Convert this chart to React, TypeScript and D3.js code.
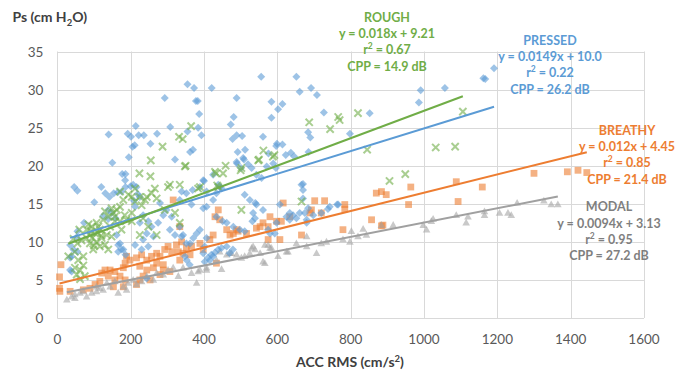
import { useEffect, useRef } from 'react';
import * as d3 from 'd3';

type Pt = [number, number];

// ACC RMS (cm/s2) vs Ps (cm H2O)
const pressed: Pt[] = [
  [140, 24.1], [150, 20.4], [192, 24.2], [201, 23.8], [214, 25.2], [205, 22.5], [211, 22.7], [222, 24.0],
  [236, 24.0], [195, 21.1], [177, 18.9], [186, 18.9], [254, 22.9], [272, 24.2], [293, 28.9], [308, 25.1],
  [321, 20.8], [355, 30.7], [373, 30.2], [378, 28.5], [383, 28.5], [387, 26.8], [384, 25.0], [393, 24.0],
  [355, 24.5], [362, 21.8], [370, 22.1], [421, 30.2], [473, 25.4], [481, 26.4], [489, 28.9], [478, 23.5],
  [489, 24.0], [504, 23.9], [512, 22.1], [492, 21.8], [509, 20.8], [520, 20.2], [490, 20.3], [501, 19.7],
  [400, 18.0], [556, 31.7], [584, 28.4], [584, 26.3], [602, 27.4], [614, 28.1], [561, 23.8], [576, 21.6],
  [599, 22.9], [597, 22.6], [614, 22.8], [596, 19.7], [589, 20.3], [623, 21.4], [637, 21.7], [652, 31.7],
  [661, 29.7], [692, 30.2], [708, 29.3], [727, 27.0], [684, 24.4], [690, 23.7], [685, 21.8], [670, 17.6],
  [1191, 32.8], [1162, 31.5], [1167, 31.4], [991, 29.9], [1057, 30.2], [986, 28.3], [852, 26.9], [798, 24.2],
  [646, 21.2],
  [101, 15.2], [46, 17.2], [55, 16.7], [120, 17.2], [131, 16.4], [142, 15.9], [154, 16.4], [165, 16.5],
  [176, 16.6], [139, 14.2], [148, 13.8], [125, 13.4], [139, 13.0], [159, 13.1], [73, 12.5], [55, 11.4],
  [53, 10.6], [44, 9.0], [35, 9.6], [39, 8.1], [55, 8.7], [35, 6.3], [162, 10.9], [171, 9.8], [180, 9.0],
  [166, 8.7], [186, 8.3], [185, 18.1], [200, 17.3], [186, 17.2], [207, 17.5], [216, 17.2], [219, 16.3],
  [225, 15.9], [209, 15.4], [212, 14.6], [234, 13.5], [248, 12.7], [257, 12.0], [225, 12.5], [244, 11.1],
  [262, 10.7], [234, 10.3], [248, 9.4], [230, 9.0], [280, 15.1], [298, 14.2], [312, 13.3], [289, 13.5],
  [275, 12.5], [307, 11.6], [321, 10.9], [339, 10.7], [334, 12.0], [352, 9.8], [352, 16.4], [369, 16.8],
  [389, 17.2], [407, 16.6], [380, 11.1], [389, 11.6], [407, 10.5], [402, 9.4], [398, 8.5], [416, 7.6],
  [425, 8.1], [434, 13.3], [451, 12.7], [462, 12.5], [434, 16.4], [443, 17.2], [425, 15.5], [480, 12.0],
  [498, 11.6], [511, 11.4], [540, 15.1], [534, 13.8], [598, 12.5], [580, 11.1], [625, 13.3], [634, 12.9],
  [666, 17.5], [670, 16.8], [661, 13.8], [680, 12.5], [766, 14.9], [244, 5.2], [353, 7.6], [348, 8.1],
  [361, 7.0], [402, 7.4], [411, 7.9], [420, 8.3], [430, 8.6], [439, 9.0], [448, 9.2], [462, 9.4], [470, 8.5],
  [479, 9.0], [39, 6.1], [35, 7.9], [166, 9.6], [175, 9.0], [212, 9.6], [343, 10.9], [371, 10.5], [362, 9.8],
  [398, 18.1], [425, 18.8], [439, 17.5], [448, 17.0], [489, 20.5], [507, 21.0], [530, 19.7], [543, 18.8],
  [557, 18.4], [571, 19.9], [511, 16.2], [525, 15.5], [543, 14.9], [561, 14.2], [539, 13.1], [532, 12.7],
  [607, 14.9], [634, 13.8], [643, 13.5], [652, 13.1], [670, 15.7], [684, 14.4], [575, 11.6], [593, 11.1],
  [334, 15.5], [339, 16.6], [366, 14.9], [398, 14.4], [407, 14.6], [675, 13.8], [680, 12.9], [698, 13.5],
  [720, 13.8], [738, 14.3], [763, 14.9], [743, 14.6],
];

const rough: Pt[] = [
  [224, 19.0], [254, 18.6], [255, 20.7], [287, 22.5], [332, 23.8], [342, 23.5], [365, 25.2], [350, 20.0],
  [433, 19.0], [459, 20.0], [500, 19.4], [550, 20.8], [562, 22.0], [592, 21.4], [687, 25.7], [744, 24.8],
  [766, 26.4], [770, 26.0], [820, 26.9], [845, 22.1], [1106, 27.1], [1032, 22.4], [1085, 22.5], [906, 18.0],
  [949, 18.9], [666, 15.3], [266, 17.0], [302, 17.2], [334, 17.5], [203, 15.9], [225, 15.9], [239, 15.5],
  [212, 15.3], [230, 14.8], [184, 13.5], [203, 12.7], [130, 14.0], [148, 14.4], [157, 13.3], [171, 12.7],
  [60, 11.6], [44, 10.4], [55, 9.8], [66, 10.2], [80, 10.5], [30, 8.1], [48, 8.7], [57, 7.6], [71, 8.1],
  [48, 6.6], [62, 6.3], [71, 6.9], [53, 5.7], [62, 5.1], [75, 5.5], [80, 11.6], [94, 12.0], [107, 12.5],
  [89, 10.9], [103, 11.1], [116, 11.6], [89, 9.8], [107, 10.0], [121, 10.5], [135, 10.9], [116, 9.4],
  [98, 9.0], [125, 12.9], [139, 13.3], [153, 13.8], [162, 14.2], [171, 14.6], [144, 12.0], [157, 12.7],
  [148, 10.7], [130, 9.6], [139, 9.0], [175, 11.6], [189, 12.9], [203, 13.8], [180, 15.5], [194, 16.2],
  [171, 16.6], [212, 17.0], [244, 15.9], [257, 16.4], [271, 15.7], [234, 13.1], [248, 12.0], [225, 10.9],
  [293, 14.2], [321, 13.8], [334, 12.5], [271, 10.9], [307, 17.5], [389, 17.2], [439, 17.2], [502, 14.2],
  [348, 19.9], [384, 17.0], [436, 17.4], [430, 19.2], [452, 19.0], [502, 19.7], [548, 20.7], [588, 21.2],
  [95, 10.5], [110, 11.2], [100, 9.5], [120, 10.8], [85, 12.3], [112, 12.0], [92, 11.4],
];

const breathy: Pt[] = [
  [10, 7.0], [6, 5.4], [6, 3.9], [7, 3.5], [35, 3.5], [71, 3.7], [89, 3.9], [103, 4.4], [116, 4.8],
  [121, 5.9], [130, 6.3], [144, 6.3], [157, 6.1], [139, 5.5], [157, 5.0], [171, 5.5], [185, 5.0], [180, 4.1],
  [153, 4.1], [185, 7.2], [189, 8.1], [198, 7.6], [180, 6.6], [216, 7.9], [230, 8.3], [244, 7.6], [257, 8.1],
  [225, 6.8], [244, 6.3], [262, 6.6], [216, 4.4], [225, 5.0], [234, 5.5], [253, 5.0], [271, 8.5], [280, 8.1],
  [293, 9.0], [302, 9.4], [312, 8.7], [271, 7.2], [289, 7.0], [316, 15.5], [325, 9.6], [339, 10.0],
  [330, 8.7], [343, 8.5], [334, 7.6], [334, 12.0], [352, 9.2], [366, 9.4], [362, 8.3], [289, 6.3],
  [307, 6.1], [280, 5.7], [389, 9.8], [398, 9.0], [416, 10.3], [425, 10.9], [439, 14.2], [430, 13.3],
  [443, 12.9], [462, 11.6], [471, 10.9], [480, 11.1], [434, 7.2], [489, 11.6], [493, 11.4], [516, 11.1],
  [543, 11.8], [553, 12.0], [561, 12.5], [575, 12.0], [598, 12.7], [611, 12.7], [580, 13.3], [616, 15.1],
  [575, 10.3], [607, 10.3], [634, 13.3], [666, 10.9], [702, 15.4], [729, 15.4], [693, 14.2], [689, 13.8],
  [720, 13.8], [784, 14.9], [784, 14.3], [779, 11.6], [857, 12.9], [888, 12.2], [884, 12.1], [870, 16.4],
  [884, 16.6], [897, 16.2], [958, 14.9], [964, 17.2], [1088, 17.9], [1093, 15.3], [1159, 17.2],
  [1300, 19.0], [1391, 19.2], [1420, 19.4], [1444, 19.1],
];

const modal: Pt[] = [
  [26, 2.4], [39, 2.8], [48, 3.1], [62, 3.3], [71, 3.5], [48, 2.6], [80, 2.8], [94, 3.3], [107, 3.5],
  [116, 3.9], [125, 3.7], [107, 4.1], [135, 4.6], [144, 4.1], [157, 4.8], [166, 3.3], [180, 4.1],
  [189, 3.7], [193, 4.6], [207, 5.0], [216, 4.4], [230, 4.8], [244, 5.5], [262, 5.0], [271, 5.9],
  [289, 5.7], [302, 6.3], [316, 6.6], [330, 5.5], [343, 6.6], [366, 5.9], [380, 4.6], [389, 6.3],
  [407, 6.3], [434, 7.6], [443, 8.7], [462, 8.3], [475, 8.5], [489, 8.3], [502, 7.9], [530, 9.2],
  [539, 9.0], [553, 8.5], [566, 9.6], [580, 9.2], [561, 7.4], [602, 8.1], [625, 8.7], [652, 9.8],
  [680, 9.4], [707, 8.5], [720, 9.8], [734, 10.0], [384, 6.1], [407, 6.6], [448, 6.4], [470, 8.5],
  [511, 8.1], [525, 8.5], [566, 7.2], [575, 9.6], [584, 9.2], [629, 8.7], [534, 9.4], [680, 10.7],
  [779, 10.3], [798, 10.0], [802, 11.4], [820, 10.7], [834, 11.7], [843, 10.9], [884, 12.2], [916, 12.2],
  [998, 12.2], [1007, 11.6], [1020, 12.7], [1025, 13.0], [1088, 13.5], [1115, 12.5], [1120, 13.3],
  [1165, 14.0], [1165, 13.5], [1206, 13.8], [1229, 13.8], [1238, 13.5], [1254, 15.1], [1327, 15.4],
  [1347, 14.9], [1365, 14.9],
];

// linear fits shown on the chart
const seriesNames = ['MODAL', 'BREATHY', 'PRESSED', 'ROUGH'];
const slopes = [0.0094, 0.012, 0.0149, 0.018];
const intercepts = [3.13, 4.45, 10.0, 9.21];
const fitLabels = ['y = 0.0094x + 3.13', 'y = 0.012x + 4.45', 'y = 0.0149x + 10.0', 'y = 0.018x + 9.21'];
const r2Labels = ['0.95', '0.85', '0.22', '0.67'];
const cppLabels = ['CPP = 27.2 dB', 'CPP = 21.4 dB', 'CPP = 26.2 dB', 'CPP = 14.9 dB'];

const xTicks = [0, 200, 400, 600, 800, 1000, 1200, 1400, 1600];
const yTicks = [0, 5, 10, 15, 20, 25, 30, 35];

const W = 676;
const H = 370;
const FONT = 'Lato, "Open Sans", sans-serif';

const App = () => {
  const ref = useRef<SVGSVGElement>(null);

  useEffect(() => {
    if (!ref.current) return;
    const svg = d3.select(ref.current);
    svg.selectAll('*').remove();

    const margin = { top: 51.5, right: 32, bottom: 52, left: 57.3 };
    const x = d3.scaleLinear().domain([0, 1600]).range([margin.left, W - margin.right]);
    const y = d3.scaleLinear().domain([0, 35]).range([H - margin.bottom, margin.top]);

    // gridlines
    const grid = svg.append('g');
    grid.selectAll('.hg')
      .data(yTicks)
      .enter()
      .append('line')
      .attr('x1', x(0))
      .attr('x2', x(1600))
      .attr('y1', d => Math.round(y(d)) + 0.5)
      .attr('y2', d => Math.round(y(d)) + 0.5)
      .attr('stroke', '#d9d9d9')
      .attr('stroke-width', 1);
    grid.selectAll('.vg')
      .data(xTicks)
      .enter()
      .append('line')
      .attr('y1', y(0))
      .attr('y2', y(35))
      .attr('x1', d => Math.round(x(d)) + 0.5)
      .attr('x2', d => Math.round(x(d)) + 0.5)
      .attr('stroke', '#d9d9d9')
      .attr('stroke-width', 1);

    // tick labels
    svg.append('g')
      .selectAll('text')
      .data(yTicks)
      .enter()
      .append('text')
      .attr('x', x(0) - 14)
      .attr('y', d => y(d) + 5)
      .attr('text-anchor', 'end')
      .style('font-family', FONT)
      .style('font-size', '13.5px')
      .style('fill', '#595959')
      .text(d => d);
    svg.append('g')
      .selectAll('text')
      .data(xTicks)
      .enter()
      .append('text')
      .attr('x', d => x(d))
      .attr('y', y(0) + 26)
      .attr('text-anchor', 'middle')
      .style('font-family', FONT)
      .style('font-size', '13.5px')
      .style('fill', '#595959')
      .text(d => d);

    // axis titles
    const yTitle = svg.append('text')
      .attr('x', 12.5)
      .attr('y', 22)
      .style('font-family', FONT)
      .style('font-size', '14px')
      .style('font-weight', 'bold')
      .style('fill', '#404040');
    yTitle.append('tspan').text('Ps (cm H');
    yTitle.append('tspan').attr('dy', 4).style('font-size', '9.5px').text('2');
    yTitle.append('tspan').attr('dy', -4).text('O)');

    const xTitle = svg.append('text')
      .attr('x', 350)
      .attr('y', 367)
      .attr('text-anchor', 'middle')
      .style('font-family', FONT)
      .style('font-size', '14px')
      .style('font-weight', 'bold')
      .style('fill', '#404040');
    xTitle.append('tspan').text('ACC RMS (cm/s');
    xTitle.append('tspan').attr('dy', -5).style('font-size', '9.5px').text('2');
    xTitle.append('tspan').attr('dy', 5).text(')');

    // markers
    const pts = svg.append('g');
    const sq = 3.4;
    pts.selectAll('.breathy')
      .data(breathy)
      .enter()
      .append('rect')
      .attr('x', d => x(d[0]) - sq)
      .attr('y', d => y(d[1]) - sq)
      .attr('width', sq * 2)
      .attr('height', sq * 2)
      .attr('fill', '#ed7d31')
      .attr('opacity', 0.6);

    const tri = 'M0,-4L3.8,2.8L-3.8,2.8Z';
    pts.selectAll('.modal')
      .data(modal)
      .enter()
      .append('path')
      .attr('d', tri)
      .attr('transform', d => `translate(${x(d[0])},${y(d[1])})`)
      .attr('fill', '#a5a5a5')
      .attr('opacity', 0.6);

    const dia = 'M0,-4L4,0L0,4L-4,0Z';
    pts.selectAll('.pressed')
      .data(pressed)
      .enter()
      .append('path')
      .attr('d', dia)
      .attr('transform', d => `translate(${x(d[0])},${y(d[1])})`)
      .attr('fill', '#5b9bd5')
      .attr('opacity', 0.6);

    const cross = 'M-3.6,-3.6L3.6,3.6M3.6,-3.6L-3.6,3.6';
    pts.selectAll('.rough')
      .data(rough)
      .enter()
      .append('path')
      .attr('d', cross)
      .attr('transform', d => `translate(${x(d[0])},${y(d[1])})`)
      .attr('fill', 'none')
      .attr('stroke', '#70ad47')
      .attr('stroke-width', 2)
      .attr('opacity', 0.6);

    // trend lines over the x range of each series
    const allSeries = [modal, breathy, pressed, rough];
    const lineColors = ['#a0a0a0', '#ed7d31', '#5b9bd5', '#70ad47'];
    allSeries.forEach((s, i) => {
      const [x0, x1] = d3.extent(s, d => d[0]) as [number, number];
      svg.append('line')
        .attr('x1', x(x0))
        .attr('x2', x(x1))
        .attr('y1', y(slopes[i] * x0 + intercepts[i]))
        .attr('y2', y(slopes[i] * x1 + intercepts[i]))
        .attr('stroke', lineColors[i])
        .attr('stroke-width', 2);
    });

    // fit annotations
    const labelColors = ['#7f7f7f', '#ed7d31', '#5b9bd5', '#70ad47'];
    const labelPos: [number, number][] = [[609, 206.7], [627, 130], [550, 40], [387, 17.3]];
    seriesNames.forEach((name, i) => {
      const [cx, cy] = labelPos[i];
      const g = svg.append('g')
        .style('font-family', FONT)
        .style('font-size', '12.5px')
        .style('font-weight', 'bold')
        .style('fill', labelColors[i])
        .attr('text-anchor', 'middle');
      g.append('text').attr('x', cx).attr('y', cy + 4.5).text(name);
      g.append('text').attr('x', cx).attr('y', cy + 16.3 + 4.5).text(fitLabels[i]);
      const r = g.append('text').attr('x', cx).attr('y', cy + 32.6 + 4.5);
      r.append('tspan').text('r');
      r.append('tspan').attr('dy', -5).style('font-size', '8.5px').text('2');
      r.append('tspan').attr('dy', 5).text(` = ${r2Labels[i]}`);
      g.append('text').attr('x', cx).attr('y', cy + 49 + 4.5).text(cppLabels[i]);
    });
  }, []);

  return (
    <svg
      ref={ref}
      width={W}
      height={H}
      style={{ position: 'absolute', left: 0, top: 0, background: '#fff' }}
    />
  );
};

export default App;
